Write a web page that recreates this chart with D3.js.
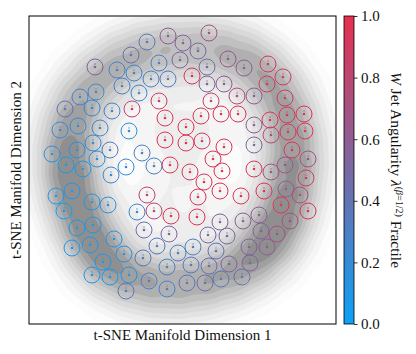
<!DOCTYPE html>
<html><head><meta charset="utf-8">
<script src="https://cdn.jsdelivr.net/npm/d3@7"></script>
<style>
html,body{margin:0;padding:0;background:#fff;}
svg{display:block;}
text{font-family:"Liberation Serif","Times New Roman",serif;}
</style></head>
<body><svg id="chart" width="416" height="354"></svg>
<script>
// ---- data: t-SNE coordinates (arbitrary units) and W jet angularity fractile ----
const tsneX = [-87,-65,-51,-60,-86,-102,-117,-90,-70,-50,-122,-104,-82,-53,-89,-105,-72,-130,-85,-116,-99,-56,-71,-48,
  -35,-14,27,1,16,46,-23,-2,25,-31,-14,10,25,42,-43,-23,29,-17,19,39,4,-17,4,20,42,-40,31,-28,-12,8,40,
  86,62,101,85,55,72,103,56,88,105,122,72,89,106,123,72,110,126,103,72,89,
  -126,-110,-118,-90,-74,-45,-105,-89,-68,-110,-92,-58,-79,-90,-72,-53,-56,
  22,38,-35,16,-28,-11,15,38,-38,-13,26,45,-25,-4,11,34,-39,-15,9,27,47,-33,-15,5,23,39,
  124,59,82,104,118,99,126,61,77,108,79,95,67,85,68,60];
const tsneY = [103,100,115,84,78,73,61,62,59,61,40,44,42,39,27,20,20,16,11,5,1,3,-5,97,
  128,134,137,127,119,111,107,110,103,91,91,94,86,86,77,69,69,52,54,56,43,30,27,29,23,17,11,4,5,-2,-1,
  106,102,93,86,74,74,72,56,50,55,56,45,35,38,39,25,20,11,5,1,-2,
  -26,-21,-41,-32,-35,-42,-58,-55,-69,-78,-75,-84,-92,-105,-107,-105,-121,
  -12,-21,-25,-27,-41,-46,-47,-52,-60,-64,-65,-66,-76,-83,-77,-81,-88,-97,-95,-96,-94,-111,-119,-113,-113,-109,
  -8,-26,-21,-19,-25,-35,-41,-51,-45,-51,-61,-64,-77,-77,-93,-107];
const fractile = [0.55,0.3,0.45,0.3,0.25,0.25,0.4,0.2,0.25,0.85,0.2,0.2,0.25,0.15,0.2,0.15,0.35,0.15,0.15,0.1,0.1,0.2,0.2,0.25,
  0.35,0.6,0.7,0.55,0.5,0.65,0.3,0.5,0.45,0.3,0.3,0.95,0.55,0.6,0.25,0.9,0.85,0.95,0.95,0.95,0.95,0.95,0.95,0.9,0.95,0.3,0.95,0.3,0.95,0.95,0.95,
  0.95,0.6,0.9,0.9,0.75,0.6,0.9,0.95,0.95,0.95,0.95,0.6,0.8,0.95,0.95,0.5,0.95,0.7,0.65,0.95,0.7,
  0.1,0.1,0.0,0.1,0.15,0.25,0.1,0.1,0.1,0.05,0.1,0.15,0.1,0.1,0.05,0.1,0.35,
  0.95,0.95,0.8,0.95,0.8,0.95,0.95,0.55,0.45,0.5,0.5,0.5,0.35,0.3,0.3,0.4,0.35,0.3,0.35,0.45,0.55,0.3,0.25,0.4,0.45,0.35,
  0.9,0.95,0.95,0.6,0.75,0.95,0.95,0.6,0.6,0.7,0.55,0.7,0.55,0.6,0.55,0.4];

// density of the full embedding (ring), read from the background shading
const densX = [-82,-102,-112,-114,-110,-100,-88,-72,-47,-17,13,43,70,90,103,110,112,108,98,80,58,30,0,-30,-57, -32,33,-32,33,0,0,0];
const densY = [95,70,40,10,-20,-50,-78,-98,-112,-117,-115,-107,-92,-70,-42,-10,20,50,78,100,115,122,124,120,110, 40,40,-35,-35,5,70,-65];
const densW = [1.0,1.2,1.3,1.45,1.55,1.55,1.35,1.2,1.1,1.1,1.1,1.15,1.3,1.55,1.55,1.4,1.3,1.2,1.1,1.0,0.95,0.95,0.95,0.95,1.0, 0.38,0.38,0.38,0.38,0.38,0.3,0.3];

const cbTicks = [0.0,0.2,0.4,0.6,0.8,1.0];
const xLabel = "t-SNE Manifold Dimension 1";
const yLabel = "t-SNE Manifold Dimension 2";

// ---- layout ----
const plot = {x0:29, x1:336, y0:16, y1:324};
const cb = {x0:344, x1:354};
const svg = d3.select("#chart");

const x = d3.scaleLinear().domain([-153,154]).range([plot.x0, plot.x1]);
const y = d3.scaleLinear().domain([-154,154]).range([plot.y1, plot.y0]);
const cmap = d3.interpolateRgb("#0aa2f8", "#e8304e");

svg.append("clipPath").attr("id","clip").append("rect")
  .attr("x",plot.x0).attr("y",plot.y0).attr("width",plot.x1-plot.x0).attr("height",plot.y1-plot.y0);
const g = svg.append("g").attr("clip-path","url(#clip)");

// density background
const densPts = densX.map((d,i)=>({x:d, y:densY[i], w:densW[i]}));
const dens = d3.contourDensity()
  .x(d=>x(d.x)).y(d=>y(d.y)).weight(d=>d.w)
  .size([416,354]).cellSize(2).bandwidth(21);
const cf = dens.contours(densPts);
const mx = cf.max;
const levels = [0.04,0.1,0.17,0.25,0.34,0.44,0.54,0.64,0.74,0.85];
levels.forEach((lv,i)=>{
  g.append("path").attr("d", d3.geoPath()(cf(lv*mx)))
    .attr("fill", d3.interpolateGreys(0.025 + 0.5*i/(levels.length-1)))
    .attr("stroke","none");
});

// circles with jet images
const pts = tsneX.map((d,i)=>({x:d, y:tsneY[i], v:fractile[i]}));
const cg = g.selectAll("g.jet").data(pts).join("g").attr("class","jet")
  .attr("transform", d=>`translate(${x(d.x)},${y(d.y)})`);
cg.append("circle").attr("r",8).attr("fill","none")
  .attr("stroke", d=>cmap(d.v)).attr("stroke-width",1);
cg.append("circle").attr("r",1.3).attr("fill", d=>cmap(d.v));
cg.append("circle").attr("cy",-3).attr("r",0.75).attr("fill", d=>cmap(d.v)).attr("opacity",0.8);

// frame
svg.append("rect").attr("x",plot.x0).attr("y",plot.y0)
  .attr("width",plot.x1-plot.x0).attr("height",plot.y1-plot.y0)
  .attr("fill","none").attr("stroke","#000").attr("stroke-width",1);

// axis labels
svg.append("text").attr("x",(plot.x0+plot.x1)/2).attr("y",340)
  .attr("text-anchor","middle").attr("font-size",15).attr("fill","#111").text(xLabel);
svg.append("text").attr("transform",`translate(21,${(plot.y0+plot.y1)/2}) rotate(-90)`)
  .attr("text-anchor","middle").attr("font-size",15).attr("fill","#111").text(yLabel);

// colorbar
const defs = svg.append("defs");
const grad = defs.append("linearGradient").attr("id","cbg")
  .attr("x1",0).attr("y1",1).attr("x2",0).attr("y2",0);
d3.range(0,1.0001,0.1).forEach(t=>grad.append("stop").attr("offset",t).attr("stop-color",cmap(t)));
svg.append("rect").attr("x",cb.x0).attr("y",plot.y0).attr("width",cb.x1-cb.x0).attr("height",plot.y1-plot.y0)
  .attr("fill","url(#cbg)").attr("stroke","#000").attr("stroke-width",0.8);
const cbScale = d3.scaleLinear().domain([0,1]).range([plot.y1, plot.y0]);
const cbAxis = svg.append("g").attr("transform",`translate(${cb.x1},0)`)
  .call(d3.axisRight(cbScale).tickValues(cbTicks).tickFormat(d3.format(".1f")).tickSize(3.5).tickPadding(3.5));
cbAxis.select(".domain").remove();
cbAxis.selectAll("line").attr("stroke","#000").attr("stroke-width",0.8);
cbAxis.selectAll("text").attr("font-size",15).attr("fill","#111")
  .style("font-family",'"Liberation Serif", serif');

// colorbar label
const lab = svg.append("text").attr("transform",`translate(391,${(plot.y0+plot.y1)/2}) rotate(90)`)
  .attr("text-anchor","middle").attr("font-size",15.5).attr("fill","#111");
lab.append("tspan").attr("font-style","italic").text("W");
lab.append("tspan").text(" Jet Angularity ");
lab.append("tspan").attr("font-style","italic").text("λ");
lab.append("tspan").attr("font-size",10).attr("dy",-5).text("(");
lab.append("tspan").attr("font-size",10).attr("font-style","italic").text("β");
lab.append("tspan").attr("font-size",10).text("=1/2)");
lab.append("tspan").attr("dy",5).text("  Fractile");
</script></body></html>
